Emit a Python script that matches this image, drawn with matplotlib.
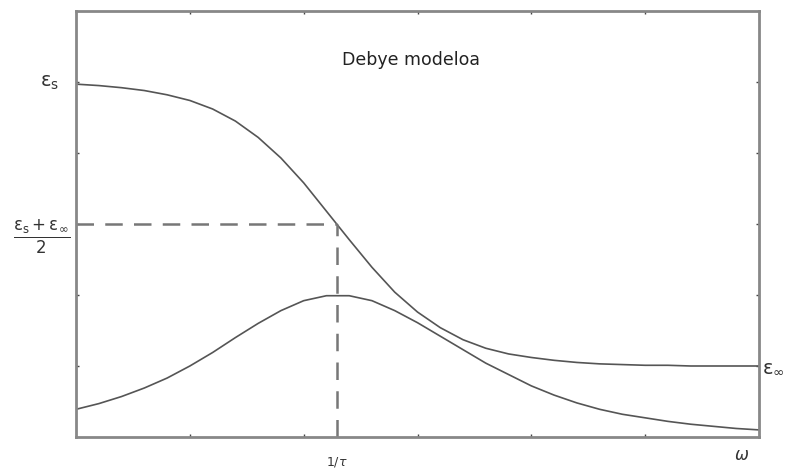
import numpy as np
import matplotlib.pyplot as plt

# log-frequency positions (arbitrary units) along the horizontal axis
omega = [0.0, 0.2, 0.4, 0.6, 0.8, 1.0, 1.2, 1.4, 1.6, 1.8, 2.0, 2.2, 2.4,
         2.6, 2.8, 3.0, 3.2, 3.4, 3.6, 3.8, 4.0, 4.2, 4.4, 4.6, 4.8, 5.0,
         5.2, 5.4, 5.6, 5.8, 6.0]

# real part eps'
eps_real = [4.97, 4.95, 4.92, 4.88, 4.82, 4.74, 4.62, 4.45, 4.22, 3.93, 3.58,
            3.18, 2.78, 2.39, 2.04, 1.76, 1.54, 1.37, 1.25, 1.17, 1.12, 1.08,
            1.05, 1.03, 1.02, 1.01, 1.01, 1.00, 1.00, 1.00, 1.00]

# imaginary part eps''
eps_imag = [0.39, 0.47, 0.57, 0.69, 0.83, 1.00, 1.19, 1.40, 1.60, 1.78, 1.92,
            1.99, 1.99, 1.92, 1.78, 1.61, 1.42, 1.23, 1.04, 0.88, 0.72, 0.59,
            0.48, 0.39, 0.32, 0.27, 0.22, 0.18, 0.15, 0.12, 0.10]

eps_s = 5.0
eps_inf = 1.0
eps_mid = 3.0
omega_relax = 2.29

fig = plt.figure(figsize=(7.87, 4.71), dpi=100)
ax = fig.add_axes([0.0966, 0.0722, 0.8678, 0.9044])

ax.plot(omega, eps_real, color='#555555', lw=1.2)
ax.plot(omega, eps_imag, color='#555555', lw=1.2)

# half-height guide lines
ax.plot([0, omega_relax], [eps_mid, eps_mid], color='#777777', lw=1.8,
        dashes=(7, 4.5))
ax.plot([omega_relax, omega_relax], [0, eps_mid], color='#777777', lw=1.8,
        dashes=(7, 4.5))

ax.set_xlim(0, 6)
ax.set_ylim(0, 6)
ax.set_xticks([1, 2, 3, 4, 5])
ax.set_yticks([1, 2, 3, 4, 5])
ax.tick_params(direction='in', length=2.5, width=1, color='#444444',
               top=True, right=True, labelbottom=False, labelleft=False)
for sp in ax.spines.values():
    sp.set_color('#888888')
    sp.set_linewidth(2)

ax.text(2.94, 5.31, 'Debye modeloa', ha='center', va='center',
        fontsize=12.5, color='#222222', family='DejaVu Sans')

tc = '#333333'
fig.text(50 / 787, 1 - 83 / 471, r'$\mathregular{\varepsilon_s}$',
         ha='center', va='center', fontsize=14, color=tc)
fig.text(42 / 787, 1 - 237 / 471,
         r'$\mathregular{\frac{\varepsilon_s+\varepsilon_\infty}{2}}$',
         ha='center', va='center', fontsize=17, color=tc)
fig.text(773 / 787, 1 - 367 / 471, r'$\mathregular{\varepsilon_\infty}$',
         ha='center', va='center', fontsize=14, color=tc)
fig.text(337 / 787, 1 - 462 / 471, r'$1/\tau$', ha='center', va='center',
         fontsize=9, color=tc)
fig.text(742 / 787, 1 - 455 / 471, r'$\omega$', ha='center', va='center',
         fontsize=12, color=tc)

fig.savefig('out.png', dpi=100)
